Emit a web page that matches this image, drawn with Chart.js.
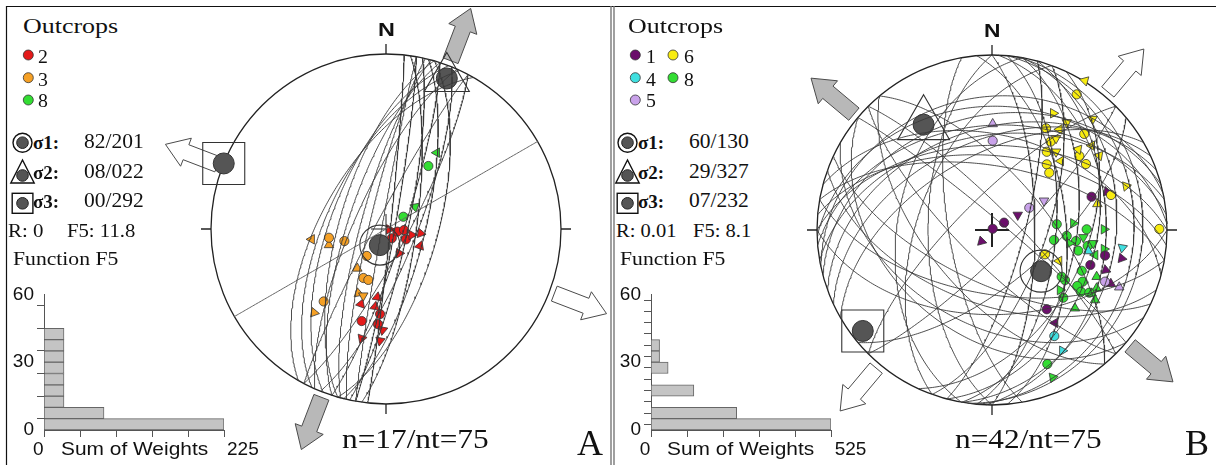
<!DOCTYPE html>
<html><head><meta charset="utf-8">
<script src="https://cdn.jsdelivr.net/npm/chart.js@4.4.1/dist/chart.umd.min.js"></script>
<style>
html,body{margin:0;padding:0;background:#fff;}
#page{position:relative;width:1216px;height:465px;overflow:hidden;background:#fff;}
canvas{position:absolute;}
.t{position:absolute;white-space:pre;color:#111;transform-origin:0 0;}
</style></head><body><div id="page">
<svg id="deco" width="1216" height="465" style="position:absolute;left:0;top:0"></svg>
<canvas id="netA" width="471" height="465" style="left:140px;top:0;width:471px;height:465px"></canvas>
<canvas id="netB" width="456" height="465" style="left:760px;top:0;width:456px;height:465px"></canvas>
<canvas id="histA" width="240" height="170" style="left:0;top:280px;width:240px;height:170px"></canvas>
<canvas id="histB" width="240" height="170" style="left:607px;top:280px;width:240px;height:170px"></canvas>
</div>
<script>
// ---------------- DATA ----------------
// principal stresses: [trend, plunge]
const sigmaA = [[201,82],[22,8],[292,0]];
const sigmaB = [[130,60],[327,29],[232,7]];
const statsA = {R:'0', F5:'11.8', n:17, nt:75};
const statsB = {R:'0.01', F5:'8.1', n:42, nt:75};
// fault planes: [dip direction, dip]
const planesA = [[100,86],[102,80],[98,76],[104,72],[96,88],[108,82],[112,76],[106,66],[118,80],
  [280,88],[283,82],[285,78],[288,72],[286,68],[291,64],[295,62],[300,60],[294,75],[298,85]];
const refPlaneA = [[150,90]];
const planesB = [[350,45],[355,40],[0,50],[345,35],[5,55],[340,42],[358,30],[10,60],[335,48],[15,45],[330,55],[348,25],
  [95,60],[100,50],[105,40],[90,70],[110,65],[100,30],[95,20],[85,55],[115,45],[105,75],[92,35],[98,15],
  [200,55],[210,45],[190,60],[220,40],[180,50],[205,65],
  [270,60],[280,45],[260,70],[290,55],
  [45,80],[225,75],[50,65],[230,60],[40,85],[135,80],[315,75],[140,65]];
// striae (net coordinates, east/north, unit radius); triangles: [x, y, rotation]
const a2Pts = [[0.033,-0.053],[0.065,-0.015],[0.103,-0.006],[0.114,-0.059],[-0.034,-0.486],[-0.139,-0.526],[-0.047,-0.543]];
const a2Tri = [[0.019,-0.002,90],[0.147,-0.034,90],[0.198,-0.025,100],[0.194,-0.097,20],[0.076,-0.139,210],[-0.050,-0.390,10],[-0.063,-0.444,10],[-0.143,-0.429,20],[-0.019,-0.577,190],[-0.034,-0.638,190],[-0.139,-0.625,200]];
const a3Pts = [[-0.326,-0.050],[-0.238,-0.069],[-0.110,-0.154],[-0.129,-0.280],[-0.101,-0.291],[-0.356,-0.414]];
const a3Tri = [[-0.425,-0.059,270],[-0.326,-0.091,0],[-0.164,-0.225,120],[-0.158,-0.367,110],[-0.130,-0.381,60],[-0.411,-0.478,220]];
const a8Pts = [[0.242,0.360],[0.099,0.070]];
const a8Tri = [[0.290,0.436,30],[0.166,0.127,50]];

const b6Pts = [[0.484,0.775],[0.309,0.581],[0.335,0.505],[0.313,0.447],[0.313,0.375],[0.327,0.327],[0.527,0.549],[0.499,0.423],[0.537,0.377],[0.680,0.200],[0.956,0.006],[0.303,-0.139]];
const b6Tri = [[0.531,0.853,45],[0.350,0.667,330],[0.427,0.615,300],[0.575,0.634,60],[0.385,0.575,30],[0.366,0.524,300],[0.366,0.447,300],[0.393,0.394,150],[0.493,0.461,40],[0.570,0.482,150],[0.613,0.425,160],[0.766,0.251,80],[0.602,0.149,240],[1.055,0.004,90],[0.383,-0.177,30]];
const b1Pts = [[0.004,0.007],[0.069,0.042],[0.569,0.190],[0.646,-0.146],[0.562,-0.200],[0.313,-0.453]];
const b1Tri = [[-0.060,-0.065,225],[0.147,0.086,180],[0.657,0.219,100],[0.741,-0.162,100],[0.650,-0.229,110],[0.679,-0.307,120],[0.360,-0.531,150]];
const b5Pts = [[0.004,0.510],[0.213,0.127],[0.646,-0.295]];
const b5Tri = [[0.004,0.606,0],[0.297,0.167,180],[0.727,-0.327,0]];
const b4Pts = [[0.356,-0.606]];
const b4Tri = [[0.402,-0.690,210],[0.745,-0.101,70],[0.550,-0.120,0]];
const b8Pts = [[0.370,0.033],[0.427,-0.034],[0.354,-0.057],[0.480,-0.063],[0.541,0.004],[0.547,-0.091],[0.493,-0.118],[0.513,-0.233],[0.417,-0.286],[0.518,-0.295],[0.487,-0.320],[0.509,-0.353],[0.407,-0.387],[0.316,-0.766],[0.556,-0.358],[0.398,-0.267]];
const b8Tri = [[0.465,0.038,90],[0.640,0.004,90],[0.442,-0.076,90],[0.522,-0.042,60],[0.579,-0.076,60],[0.640,-0.109,90],[0.589,-0.143,30],[0.598,-0.267,0],[0.598,-0.333,0],[0.389,-0.343,330],[0.570,-0.362,0],[0.589,-0.400,0],[0.474,-0.447,0],[0.347,-0.842,200]];

// histograms: bins of 5 (0..60), sum of weights
const binStarts = [0,5,10,15,20,25,30,35,40,45,50,55];
const weightsA = [225,75,25,25,25,25,25,25,25,0,0,0];
const weightsB = [525,250,0,125,0,50,25,25,0,0,0,0];
const histMaxA = 225, histMaxB = 525;
const yTickLabels = [0,30,60];

const COL = {1:'#6b0f6b',2:'#e41a1a',3:'#f5a025',4:'#40e0e0',5:'#c9a2ea',6:'#f8ec10',8:'#33dd33'};

// ---------------- GEOMETRY ----------------
const D2R = Math.PI/180;
function vec(tr,pl){const t=tr*D2R,p=pl*D2R;return [Math.cos(p)*Math.sin(t),Math.cos(p)*Math.cos(t),Math.sin(p)];}
function proj(v){let [e,n,d]=v;if(d<0){e=-e;n=-n;d=-d;}const h=Math.hypot(e,n);const r=Math.sqrt(Math.max(0,1-d));if(h<1e-9)return {x:0,y:0};return {x:r*e/h,y:r*n/h};}
function greatCircle(dd,dip){const s=vec(dd-90,0),q=vec(dd,dip);const out=[];for(let t=0;t<=180;t+=1){const c=Math.cos(t*D2R),sn=Math.sin(t*D2R);out.push(proj([s[0]*c+q[0]*sn,s[1]*c+q[1]*sn,s[2]*c+q[2]*sn]));}return out;}

// ---------------- NET CHARTS ----------------
function drawArrow(ctx,cx,cy,az,dist,fill){
  const ux=Math.sin(az*D2R),uy=-Math.cos(az*D2R),px=-uy,py=ux;
  const L=56,hl=22,sw=8,hw=15;
  const mx=cx+ux*dist,my=cy+uy*dist;
  const tx=mx-ux*L/2,ty=my-uy*L/2,hx=mx+ux*L/2,hy=my+uy*L/2;
  const nx=hx-ux*hl,ny=hy-uy*hl;
  ctx.beginPath();
  ctx.moveTo(tx+px*sw,ty+py*sw);ctx.lineTo(nx+px*sw,ny+py*sw);ctx.lineTo(nx+px*hw,ny+py*hw);
  ctx.lineTo(hx,hy);ctx.lineTo(nx-px*hw,ny-py*hw);ctx.lineTo(nx-px*sw,ny-py*sw);ctx.lineTo(tx-px*sw,ty-py*sw);ctx.closePath();
  ctx.fillStyle=fill;ctx.fill();ctx.lineWidth=1;ctx.strokeStyle='#4a4a4a';ctx.stroke();
}
const netDeco={id:'netDeco',beforeDatasetsDraw(chart,args,o){
  const ctx=chart.ctx,x=chart.scales.x,y=chart.scales.y;
  const cx=x.getPixelForValue(0),cy=y.getPixelForValue(0),R=x.getPixelForValue(1)-cx;
  ctx.save();
  const t=o.trend;
  drawArrow(ctx,cx,cy,t,1.19*R,'#b8b8b8');drawArrow(ctx,cx,cy,t+180,1.19*R,'#b8b8b8');
  drawArrow(ctx,cx,cy,t+90,1.19*R,'#ffffff');drawArrow(ctx,cx,cy,t-90,1.19*R,'#ffffff');
  ctx.beginPath();ctx.arc(cx,cy,R,0,2*Math.PI);ctx.lineWidth=1.3;ctx.strokeStyle='#222';ctx.stroke();
  ctx.beginPath();
  for(const a of [0,90,180,270]){const ux=Math.sin(a*D2R),uy=-Math.cos(a*D2R);ctx.moveTo(cx+ux*R,cy+uy*R);ctx.lineTo(cx+ux*(R+10),cy+uy*(R+10));}
  ctx.lineWidth=1.3;ctx.stroke();
  ctx.beginPath();ctx.moveTo(cx-o.cross,cy);ctx.lineTo(cx+o.cross,cy);ctx.moveTo(cx,cy-o.cross);ctx.lineTo(cx,cy+o.cross);
  ctx.lineWidth=o.crossW;ctx.strokeStyle='#222';ctx.stroke();
  ctx.restore();
}};
function ptSet(arr,color,tri){
  return {data:arr.map(p=>({x:p[0],y:p[1]})),pointStyle:tri?'triangle':'circle',pointRadius:tri?5.5:4.6,
    pointRotation:tri?(c=>arr[c.dataIndex]?arr[c.dataIndex][2]:0):0,
    pointBackgroundColor:color,backgroundColor:color,pointBorderColor:'#333',borderColor:'#333',pointBorderWidth:0.8,showLine:false,clip:false};
}
function makeNet(id,cfg){
  const ds=[];
  cfg.planes.forEach(p=>ds.push({data:greatCircle(p[0],p[1]),showLine:true,pointRadius:0,borderColor:'#3a3a3a',borderWidth:0.9,tension:0,fill:false,clip:false}));
  (cfg.ref||[]).forEach(p=>ds.push({data:greatCircle(p[0],p[1]),showLine:true,pointRadius:0,borderColor:'#666',borderWidth:1,tension:0,fill:false,clip:false}));
  const sg=cfg.sigma.map(s=>proj(vec(s[0],s[1])));
  const mk=(pt,style,r)=>({data:[pt],pointStyle:style,pointRadius:r,pointBackgroundColor:'rgba(0,0,0,0)',backgroundColor:'rgba(0,0,0,0)',pointBorderColor:'#333',borderColor:'#333',pointBorderWidth:1.1,showLine:false,clip:false});
  ds.push(mk(sg[0],'circle',cfg.ring));ds.push(mk(sg[1],'triangle',cfg.triR));ds.push(mk(sg[2],'rect',29.7));
  ds.push({data:sg,pointStyle:'circle',pointRadius:10.5,pointBackgroundColor:'#555',backgroundColor:'#555',pointBorderColor:'#333',borderColor:'#333',pointBorderWidth:1,showLine:false,clip:false});
  cfg.points.forEach(g=>ds.push(ptSet(g[0],g[1],g[2])));
  new Chart(document.getElementById(id),{type:'scatter',data:{datasets:ds},plugins:[netDeco],
    options:{responsive:false,animation:false,events:[],devicePixelRatio:1,layout:{padding:cfg.pad},
      plugins:{legend:{display:false},tooltip:{enabled:false},netDeco:{trend:cfg.sigma[0][0],cross:cfg.cross,crossW:cfg.crossW}},
      scales:{x:{type:'linear',min:-1,max:1,display:false},y:{type:'linear',min:-1,max:1,display:false}}}});
}
makeNet('netA',{planes:planesA,ref:refPlaneA,sigma:sigmaA,ring:20,triR:26,pad:{left:71,right:50,top:54,bottom:61},cross:15,crossW:1,
  points:[[a3Pts,COL[3],false],[a3Tri,COL[3],true],[a2Tri,COL[2],true],[a2Pts,COL[2],false],[a8Pts,COL[8],false],[a8Tri,COL[8],true]]});
makeNet('netB',{planes:planesB,sigma:sigmaB,ring:21,triR:30,pad:{left:57,right:49,top:55,bottom:60},cross:17,crossW:2,
  points:[[b6Tri,COL[6],true],[b6Pts,COL[6],false],[b5Tri,COL[5],true],[b5Pts,COL[5],false],[b4Tri,COL[4],true],[b4Pts,COL[4],false],
          [b1Tri,COL[1],true],[b1Pts,COL[1],false],[b8Tri,COL[8],true],[b8Pts,COL[8],false]]});

// ---------------- HISTOGRAMS ----------------
function makeHist(id,weights,xmax,ystep){
  const data=binStarts.map((b,i)=>({x:weights[i],y:b+2.5})).filter(d=>d.x>0);
  new Chart(document.getElementById(id),{type:'bar',
    data:{datasets:[{data,backgroundColor:'#c4c4c4',borderColor:'#666',borderWidth:1,barPercentage:1,categoryPercentage:1}]},
    options:{indexAxis:'y',responsive:false,animation:false,events:[],devicePixelRatio:1,
      layout:{padding:{top:13,right:16,left:0,bottom:0}},
      plugins:{legend:{display:false},tooltip:{enabled:false}},
      scales:{
        x:{type:'linear',min:0,max:xmax,ticks:{stepSize:xmax/5,display:false},grid:{drawOnChartArea:false,drawTicks:true,tickLength:7,color:'#555'},border:{color:'#555',width:1},afterFit(s){s.height=20;}},
        y:{type:'linear',min:0,max:60,offset:false,ticks:{stepSize:ystep,padding:3,color:'#111',autoSkip:false,font:{family:'"Liberation Sans", Arial, sans-serif',size:19},callback:v=>yTickLabels.includes(v)?String(v):''},
           grid:{drawOnChartArea:false,drawTicks:true,tickLength:7,color:'#555'},border:{color:'#555',width:1},afterFit(s){s.width=44;}}
      }}});
}
makeHist('histA',weightsA,histMaxA,10);
makeHist('histB',weightsB,histMaxB,5);

// ---------------- TEXT & DECORATION ----------------
const page=document.getElementById('page');
function txt(s,x,base,fs,fam,o){o=o||{};const d=document.createElement('div');d.className='t';d.textContent=s;
  const k=fam==='serif'?0.8375:0.8465;d.style.left=x+'px';d.style.top=(base-k*fs)+'px';d.style.fontSize=fs+'px';d.style.lineHeight=fs+'px';
  d.style.fontFamily=fam==='serif'?'"Liberation Serif","Times New Roman",serif':'"Liberation Sans",Arial,sans-serif';
  if(o.bold)d.style.fontWeight='bold';if(o.sx)d.style.transform='scaleX('+o.sx+')';page.appendChild(d);return d;}
const fmt=(s)=>String(s[1]).padStart(2,'0')+'/'+String(s[0]).padStart(3,'0');

function panelText(x0,sig){
  txt('Outcrops',x0+0.5,33.7,22,'serif',{sx:1.18});
  ['σ1:','σ2:','σ3:'].forEach((l,i)=>{const b=[149,179,208.3][i];txt(l,x0+10.5,b,19,'serif',{bold:true});txt(fmt(sig[i]),x0+61.5,b,21.5,'serif');});
}
// panel A
panelText(22.5,sigmaA);
txt('2',38.3,63.3,18,'serif',{sx:1.1});txt('3',38.3,86,18,'serif',{sx:1.1});txt('8',38.3,106.7,18,'serif',{sx:1.1});
txt('R: '+statsA.R,7.5,236.7,19,'serif',{sx:1.1});txt('F5: '+statsA.F5,66.7,236.7,19,'serif',{sx:1.09});
txt('Function F5',12.7,265,19,'serif',{sx:1.14});
txt('0',33,455,19,'sans');txt('Sum of Weights',60.7,455,19,'sans',{sx:1.1});txt(String(histMaxA),227,455,19,'sans');
txt('n='+statsA.n+'/nt='+statsA.nt,341.7,448.3,27,'serif',{sx:1.16});
txt('A',577,455,36,'serif');
txt('N',377.5,36.7,18,'sans',{bold:true,sx:1.3});
// panel B
panelText(627.5,sigmaB);
txt('1',646,63.3,18,'serif',{sx:1.1});txt('6',684,63.3,18,'serif',{sx:1.1});
txt('4',646,86,18,'serif',{sx:1.1});txt('8',684,86,18,'serif',{sx:1.1});
txt('5',646,106.7,18,'serif',{sx:1.1});
txt('R: '+statsB.R,616.3,236.7,19,'serif',{sx:1.08});txt('F5: '+statsB.F5,693,236.7,19,'serif',{sx:1.08});
txt('Function F5',619.7,265,19,'serif',{sx:1.14});
txt('0',639.7,455,19,'sans');txt('Sum of Weights',667.3,455,19,'sans',{sx:1.1});txt(String(histMaxB),834.7,455,19,'sans');
txt('n='+statsB.n+'/nt='+statsB.nt,955,448.3,27,'serif',{sx:1.16});
txt('B',1185,455,36,'serif');
txt('N',984,37,19,'sans',{bold:true,sx:1.2});

// svg frame + legend symbols
const svg=document.getElementById('deco');const NS='http://www.w3.org/2000/svg';
function el(tag,attrs){const e=document.createElementNS(NS,tag);for(const k in attrs)e.setAttribute(k,attrs[k]);svg.appendChild(e);return e;}
el('line',{x1:6,y1:6.5,x2:1216,y2:6.5,stroke:'#111','stroke-width':1.2});
el('line',{x1:6.5,y1:6,x2:6.5,y2:465,stroke:'#111','stroke-width':1.2});
el('line',{x1:611,y1:6,x2:611,y2:465,stroke:'#777','stroke-width':1.4});
el('line',{x1:614,y1:6,x2:614,y2:465,stroke:'#777','stroke-width':1.4});
function legDot(x,y,c){el('circle',{cx:x,cy:y,r:5,fill:c,stroke:'#333','stroke-width':0.8});}
legDot(28.3,55,COL[2]);legDot(28.3,77.7,COL[3]);legDot(28.3,100,COL[8]);
legDot(635.3,55,COL[1]);legDot(673,55,COL[6]);legDot(635.3,77.7,COL[4]);legDot(673,77.7,COL[8]);legDot(635.3,100,COL[5]);
function sigSyms(x0){
  el('circle',{cx:x0,cy:142.7,r:9.5,fill:'none',stroke:'#111','stroke-width':1.4});
  el('circle',{cx:x0,cy:142.7,r:5.8,fill:'#555',stroke:'#222','stroke-width':1});
  el('polygon',{points:`${x0},160 ${x0-11.7},183 ${x0+11.7},183`,fill:'none',stroke:'#111','stroke-width':1.4});
  el('circle',{cx:x0,cy:175.5,r:5.8,fill:'#555',stroke:'#222','stroke-width':1});
  el('rect',{x:x0-10.3,y:193.3,width:20.7,height:20,fill:'none',stroke:'#111','stroke-width':1.4});
  el('circle',{cx:x0,cy:203.3,r:5.8,fill:'#555',stroke:'#222','stroke-width':1});
}
sigSyms(22.5);sigSyms(627.5);
</script>
</body></html>
